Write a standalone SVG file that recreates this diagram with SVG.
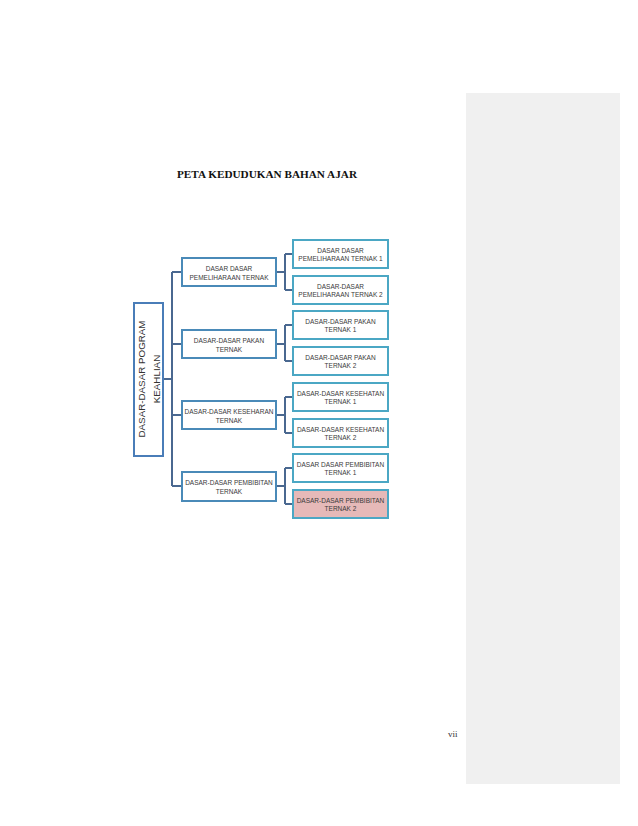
<svg xmlns="http://www.w3.org/2000/svg" width="638" height="826" viewBox="0 0 638 826">
<style>
.l2{fill:#fff;stroke:#4a8ab8;stroke-width:2}
.r{fill:#fff;stroke:#4ba7c4;stroke-width:2}
.pink{fill:#e6b9b8;stroke:#4ba7c4;stroke-width:2}
.root{fill:#fff;stroke:#4a7db8;stroke-width:2}
.t{font-family:"Liberation Sans",Arial,sans-serif;font-size:6.5px;fill:#3a3a3a;text-anchor:middle}
.rt{font-family:"Liberation Sans",Arial,sans-serif;font-size:9.8px;fill:#333;text-anchor:middle}
.c{fill:none;stroke:#4a6890;stroke-width:2}
</style>
<rect width="638" height="826" fill="#fff"/>
<rect x="466" y="93" width="154" height="691" fill="#f0f0f0"/>
<text x="267" y="178" font-family="'Liberation Serif',serif" font-weight="bold" font-size="10.5" fill="#111" text-anchor="middle" textLength="180" lengthAdjust="spacingAndGlyphs">PETA KEDUDUKAN BAHAN AJAR</text>
<text x="448" y="737" font-family="'Liberation Serif',serif" font-size="9" fill="#333">vii</text>

<g id="connectors">
<path class="c" d="M163,379H172M172,272V486M172,272H182M172,344H182M172,415H182M172,486H182"/>
<path class="c" d="M276,272H285M285,254V290M285,254H293M285,290H293"/>
<path class="c" d="M276,344H285M285,325V361M285,325H293M285,361H293"/>
<path class="c" d="M276,415H285M285,397V433M285,397H293M285,433H293"/>
<path class="c" d="M276,486H285M285,468V504M285,468H293M285,504H293"/>
</g>

<g id="root">
<rect class="root" x="134" y="303" width="29" height="153"/>
<text class="rt" transform="translate(145,379) rotate(-90)">DASAR-DASAR POGRAM</text>
<text class="rt" transform="translate(160,379) rotate(-90)">KEAHLIAN</text>
</g>

<g id="l2-1"><rect class="l2" x="182" y="258" width="94" height="28"/>
<text class="t" x="229" y="270.5">DASAR DASAR</text><text class="t" x="229" y="279.5">PEMELIHARAAN TERNAK</text></g>
<g id="l2-2"><rect class="l2" x="182" y="330" width="94" height="28"/>
<text class="t" x="229" y="342.5">DASAR-DASAR PAKAN</text><text class="t" x="229" y="351.5">TERNAK</text></g>
<g id="l2-3"><rect class="l2" x="182" y="401" width="94" height="28"/>
<text class="t" x="229" y="413.5">DASAR-DASAR KESEHARAN</text><text class="t" x="229" y="422.5">TERNAK</text></g>
<g id="l2-4"><rect class="l2" x="182" y="472" width="94" height="29"/>
<text class="t" x="229" y="484.5">DASAR-DASAR PEMBIBITAN</text><text class="t" x="229" y="493.5">TERNAK</text></g>

<g id="r1"><rect class="r" x="293" y="240" width="95" height="28"/>
<text class="t" x="340.5" y="252.5">DASAR DASAR</text><text class="t" x="340.5" y="261">PEMELIHARAAN TERNAK 1</text></g>
<g id="r2"><rect class="r" x="293" y="276" width="95" height="28"/>
<text class="t" x="340.5" y="288.5">DASAR-DASAR</text><text class="t" x="340.5" y="297">PEMELIHARAAN TERNAK 2</text></g>
<g id="r3"><rect class="r" x="293" y="311" width="95" height="28"/>
<text class="t" x="340.5" y="323.5">DASAR-DASAR PAKAN</text><text class="t" x="340.5" y="332">TERNAK 1</text></g>
<g id="r4"><rect class="r" x="293" y="347" width="95" height="28"/>
<text class="t" x="340.5" y="359.5">DASAR-DASAR PAKAN</text><text class="t" x="340.5" y="368">TERNAK 2</text></g>
<g id="r5"><rect class="r" x="293" y="383" width="95" height="28"/>
<text class="t" x="340.5" y="395.5">DASAR-DASAR KESEHATAN</text><text class="t" x="340.5" y="404">TERNAK 1</text></g>
<g id="r6"><rect class="r" x="293" y="419" width="95" height="28"/>
<text class="t" x="340.5" y="431.5">DASAR-DASAR KESEHATAN</text><text class="t" x="340.5" y="440">TERNAK 2</text></g>
<g id="r7"><rect class="r" x="293" y="454" width="95" height="28"/>
<text class="t" x="340.5" y="466.5">DASAR DASAR PEMBIBITAN</text><text class="t" x="340.5" y="475">TERNAK 1</text></g>
<g id="r8"><rect class="pink" x="293" y="490" width="95" height="28"/>
<text class="t" x="340.5" y="502.5">DASAR-DASAR PEMBIBITAN</text><text class="t" x="340.5" y="511">TERNAK 2</text></g>
</svg>
